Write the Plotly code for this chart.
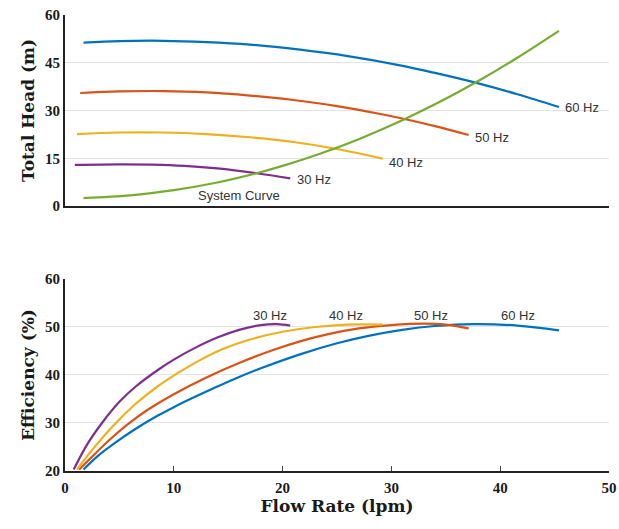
import plotly.graph_objects as go
from plotly.subplots import make_subplots

# ---- Head curves (top) ----
h60_flow = [1.7, 5, 9, 13, 17, 21.6, 26, 30.8, 34, 37.9, 41.5, 45.4]
h60_head = [51.3, 51.8, 51.9, 51.5, 50.7, 49.1, 47.1, 44.2, 41.8, 38.6, 35.2, 31.1]
h50_flow = [1.4, 5, 9, 13, 17, 21, 25, 29, 31.1, 34, 37.1]
h50_head = [35.5, 36.0, 36.1, 35.7, 34.7, 33.3, 31.4, 28.9, 27.4, 25.1, 22.3]
h40_flow = [1.1, 5, 9, 13, 17, 21, 25, 29.2]
h40_head = [22.6, 23.1, 23.1, 22.6, 21.6, 20.1, 17.9, 14.9]
h30_flow = [0.9, 5, 8, 11, 14, 17.6, 20.7]
h30_head = [12.9, 13.1, 13.0, 12.6, 11.8, 10.3, 8.7]
sys_flow = [1.7, 6, 10, 14, 17.6, 20, 23.5, 27, 31.1, 34.5, 37.9, 41.5, 45.4]
sys_head = [2.5, 3.35, 5.0, 7.4, 10.3, 12.6, 16.5, 21.0, 27.1, 32.8, 39.1, 46.4, 55.0]

# ---- Efficiency curves (bottom) ----
e60_flow = [1.7, 3, 4.5, 6.5, 8.5, 10, 12, 14, 16, 18, 21.6, 25, 28, 31, 34, 37.6, 41.6, 45.4]
e60_eff = [20.3, 23.1, 25.7, 28.8, 31.5, 33.3, 35.5, 37.6, 39.6, 41.4, 44.3, 46.6, 48.2, 49.4, 50.2, 50.6, 50.3, 49.3]
e50_flow = [1.3, 2.5, 4, 5.7, 7.5, 10, 13, 16, 19, 21.6, 24, 27, 30, 33, 35, 37.1]
e50_eff = [20.3, 23.0, 26.3, 29.6, 32.6, 36.0, 39.5, 42.5, 45.1, 47.0, 48.4, 49.7, 50.4, 50.7, 50.5, 49.7]
e40_flow = [1.1, 2.5, 4.5, 6.5, 8.5, 10.5, 12.5, 14.5, 17, 20, 23, 26, 29.2]
e40_eff = [20.3, 24.4, 29.6, 34.0, 37.6, 40.6, 43.2, 45.4, 47.4, 49.0, 50.0, 50.5, 50.5]
e30_flow = [0.8, 2, 3.4, 5, 6.5, 8.7, 10, 12, 14, 16, 18, 19.5, 20.7]
e30_eff = [20.3, 25.4, 30.0, 34.4, 37.6, 41.3, 43.2, 45.7, 47.8, 49.4, 50.4, 50.6, 50.3]

x_ticks = [0, 10, 20, 30, 40, 50]
head_ticks = [0, 15, 30, 45, 60]
eff_ticks = [20, 30, 40, 50, 60]

BLUE, RED, YEL, PUR, GRN = "#0072BD", "#D95319", "#EDB120", "#7E2F8E", "#77AC30"

fig = make_subplots(rows=2, cols=1)

def add(fx, fy, color, row):
    fig.add_trace(go.Scatter(x=fx, y=fy, mode="lines", line=dict(color=color, width=2.2, shape="spline"),
                             showlegend=False, hoverinfo="skip"), row=row, col=1)

add(h60_flow, h60_head, BLUE, 1)
add(h50_flow, h50_head, RED, 1)
add(h40_flow, h40_head, YEL, 1)
add(h30_flow, h30_head, PUR, 1)
add(sys_flow, sys_head, GRN, 1)

add(e60_flow, e60_eff, BLUE, 2)
add(e50_flow, e50_eff, RED, 2)
add(e40_flow, e40_eff, YEL, 2)
add(e30_flow, e30_eff, PUR, 2)

lab_font = dict(family="Liberation Sans, Arial, sans-serif", size=13, color="#333333")
top_labels = [("60 Hz", 45.8, 31.0), ("50 Hz", 37.5, 21.4), ("40 Hz", 29.6, 13.6), ("30 Hz", 21.1, 8.4)]
for t, x, y in top_labels:
    fig.add_annotation(text=t, x=x, y=y, xref="x", yref="y", xanchor="left", yanchor="middle",
                       showarrow=False, font=lab_font)
fig.add_annotation(text="System Curve", x=16.0, y=3.4, xref="x", yref="y", xanchor="center",
                   yanchor="middle", showarrow=False, font=lab_font)
bot_labels = [("30 Hz", 18.8), ("40 Hz", 25.8), ("50 Hz", 33.6), ("60 Hz", 41.6)]
for t, x in bot_labels:
    fig.add_annotation(text=t, x=x, y=52.3, xref="x2", yref="y2", xanchor="center", yanchor="middle",
                       showarrow=False, font=lab_font)

tick_font = dict(family="Liberation Serif, Times New Roman, serif", size=15, color="#1a1a1a")
title_font = dict(family="DejaVu Serif, serif", size=17, color="#1a1a1a")

common_x = dict(range=[0, 50], showgrid=False, zeroline=False, showline=True, linecolor="#222",
                linewidth=2, tickvals=x_ticks, fixedrange=True, automargin=False)
fig.update_xaxes(**common_x, showticklabels=False, ticks="", row=1, col=1)
fig.update_xaxes(**common_x, showticklabels=True, ticks="inside", ticklen=5, tickcolor="#444",
                 tickfont=tick_font, ticklabelstandoff=2,
                 ticktext=[f"<b>{v}</b>" for v in x_ticks],
                 title=dict(text="<b>Flow Rate (lpm)</b>", font=title_font, standoff=5), row=2, col=1)

common_y = dict(showgrid=True, gridcolor="#e3e3e3", gridwidth=1, zeroline=False, showline=True,
                linecolor="#222", linewidth=2, ticks="", tickfont=tick_font, automargin=False,
                fixedrange=True)
fig.update_yaxes(**common_y, range=[0, 60], tickvals=head_ticks,
                 ticktext=[f"<b>{v}</b>" for v in head_ticks],
                 title=dict(text="<b>Total Head (m)</b>", font=title_font, standoff=6), row=1, col=1)
fig.update_yaxes(**common_y, range=[20, 60], tickvals=eff_ticks,
                 ticktext=[f"<b>{v}</b>" for v in eff_ticks],
                 title=dict(text="<b>Efficiency (%)</b>", font=title_font, standoff=6), row=2, col=1)

fig.update_layout(
    width=619, height=529,
    margin=dict(l=65, r=10, t=15, b=58),
    paper_bgcolor="white", plot_bgcolor="white",
    xaxis=dict(domain=[0, 1]), xaxis2=dict(domain=[0, 1]),
    yaxis=dict(domain=[0.5811, 1.0]), yaxis2=dict(domain=[0.0, 0.4211]),
)

fig.write_html("out.html", config={"displayModeBar": False},
               post_script="document.body.style.margin='0';document.body.style.overflow='hidden';")
